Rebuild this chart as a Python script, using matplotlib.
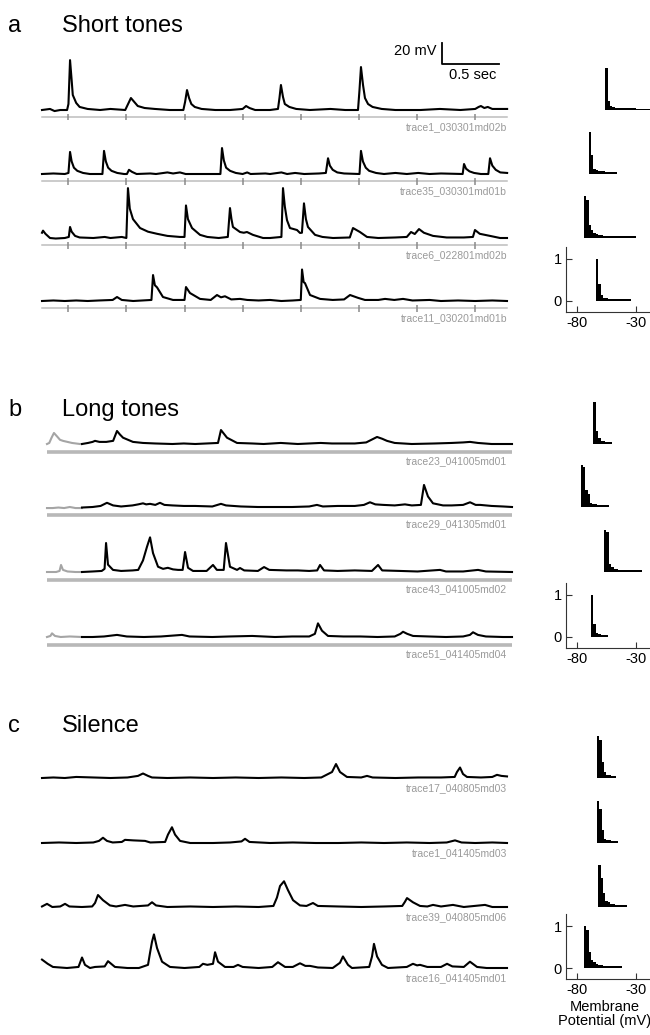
import numpy as np
import matplotlib
matplotlib.use('Agg')
import matplotlib.pyplot as plt

plt.rcParams['font.family'] = ['Liberation Sans', 'DejaVu Sans']
plt.rcParams['axes.unicode_minus'] = False

# ---------------------------------------------------------------
# traces: (time in s, mV above resting level)
# ---------------------------------------------------------------
a1 = [(0, 0), (.07, 1), (.11, -1), (.16, 0), (.22, 0), (.232, 5.7), (.246, 47.5), (.26, 28.5),
      (.27, 14.3), (.30, 6.7), (.33, 2.9), (.40, 1), (.51, 0), (.60, 1), (.73, 0), (.755, 5.7),
      (.78, 11.4), (.81, 7.6), (.84, 3.8), (.90, 1.9), (.99, 1), (1.12, 0), (1.24, 0), (1.255, 7.6),
      (1.272, 19), (1.29, 11.4), (1.31, 5.7), (1.34, 2.9), (1.40, 1), (1.52, 0), (1.65, 0), (1.76, 1),
      (1.79, 3.8), (1.82, 1.9), (1.87, 0), (2.0, 0), (2.07, 1), (2.083, 11.4), (2.096, 23.8),
      (2.114, 12.4), (2.13, 5.7), (2.17, 2.9), (2.23, 1), (2.35, 0), (2.53, 1), (2.66, 0), (2.772, 0),
      (2.785, 19), (2.798, 40.9), (2.816, 23.8), (2.833, 11.4), (2.86, 5.7), (2.90, 2.9), (2.98, 1),
      (3.10, 0), (3.32, 0), (3.49, 1), (3.67, 0), (3.80, 1), (3.83, 2.9), (3.85, 3.8), (3.88, 1.9),
      (3.91, 2.9), (3.95, 1), (4.08, 1)]
a2 = [(0, 0), (.1, .5), (.2, 0), (.232, 1), (.246, 21), (.26, 12), (.28, 6), (.31, 3), (.36, 1),
      (.42, 0), (.53, 0), (.544, 22), (.56, 12), (.58, 6), (.61, 3), (.66, 1), (.72, 0), (.745, 0),
      (.763, 4), (.79, 2), (.83, 0), (.95, .5), (1.0, 0), (1.1, 1.5), (1.15, .5), (1.21, 1.5),
      (1.26, 0), (1.4, 0), (1.565, 0), (1.579, 24.7), (1.595, 13), (1.615, 6), (1.65, 3), (1.70, 1),
      (1.76, 0), (1.80, 1.5), (1.83, 0), (1.96, .5), (2.0, 0), (2.1, 1.5), (2.15, 0), (2.22, 1),
      (2.3, 0), (2.43, .5), (2.49, 1), (2.509, 15), (2.525, 8), (2.55, 4), (2.59, 1.5), (2.65, .5),
      (2.785, 0), (2.798, 22), (2.815, 12), (2.84, 6), (2.87, 3), (2.93, 1), (3.0, 0), (3.1, 1),
      (3.2, 0), (3.3, 1), (3.4, 0), (3.5, .5), (3.69, 0), (3.702, 9.5), (3.72, 5), (3.75, 2.5),
      (3.79, 1), (3.85, 0), (3.915, 0), (3.93, 15), (3.95, 8), (3.98, 4), (4.02, 1.5), (4.08, 1)]
a3 = [(0, 5), (.009, 7), (.03, 4), (.07, 0), (.12, -.5), (.2, 0), (.235, 1), (.246, 10.5), (.26, 6),
      (.29, 2), (.33, .5), (.45, 0), (.55, 1), (.6, 0), (.70, 1), (.74, 0), (.754, 47.5), (.77, 28),
      (.798, 18), (.86, 9.5), (.93, 6), (1.009, 4), (1.1, 2), (1.21, 1), (1.25, 1), (1.263, 31),
      (1.28, 18), (1.316, 9.5), (1.386, 3), (1.45, 1), (1.55, 0), (1.63, 1), (1.649, 28.5),
      (1.662, 18), (1.675, 10.5), (1.737, 5.7), (1.77, 5), (1.798, 5.7), (1.85, 3), (1.939, 0),
      (2.0, 0), (2.1, 1), (2.114, 47.5), (2.13, 30), (2.149, 17), (2.175, 9.5), (2.237, 7.6),
      (2.263, 4.8), (2.28, 5), (2.298, 33), (2.315, 18), (2.333, 10.5), (2.395, 3), (2.46, 1),
      (2.553, 0), (2.7, .5), (2.728, 9.5), (2.789, 5.7), (2.851, 1), (2.95, 0), (3.1, .5), (3.2, 1),
      (3.237, 5.7), (3.27, 3.8), (3.307, 8.5), (3.35, 5), (3.43, 2), (3.55, .5), (3.7, .5),
      (3.78, 1), (3.798, 7.6), (3.84, 4), (3.93, 2), (4.018, 0), (4.079, 0)]
a4 = [(0, 0), (.1, .5), (.2, 0), (.3, .5), (.4, 0), (.5, .5), (.62, 1), (.658, 3.8), (.7, 1),
      (.8, 0), (.96, 1), (.974, 24.7), (.99, 15), (1.009, 13), (1.061, 3.8), (1.149, 1), (1.25, 1),
      (1.263, 13.3), (1.298, 7.6), (1.386, 2), (1.48, 1), (1.535, 5.7), (1.57, 3.5), (1.605, 4.5),
      (1.66, 1.5), (1.737, 2), (1.8, 1), (1.9, .5), (2.0, 1), (2.1, 0), (2.2, .5), (2.27, 1),
      (2.281, 30), (2.295, 18), (2.307, 17), (2.351, 5.7), (2.439, 2), (2.55, 1), (2.65, 1.5),
      (2.702, 5.7), (2.772, 3), (2.833, 1), (2.95, 1), (3.009, 2), (3.09, 1), (3.167, 2),
      (3.25, .5), (3.4, 1), (3.5, 0), (3.65, .5), (3.8, 0), (3.95, .5), (4.079, 0)]

# long tones: grey part before tone onset, black part after
b1_pre = [(0, 0), (.02, 1), (.04, 6), (.061, 10.5), (.09, 7), (.114, 4), (.14, 3), (.219, 1),
          (.289, 0), (.307, 0)]
b1 = [(.307, 0), (.36, 1), (.40, 2), (.421, 3), (.46, 2), (.52, 2), (.58, 3), (.614, 12.4),
      (.64, 9), (.667, 6), (.754, 2), (.842, 1), (.95, .5), (1.1, 0), (1.2, .5), (1.3, 0), (1.4, .5),
      (1.5, 1), (1.526, 13.3), (1.55, 10), (1.579, 6), (1.667, 1), (1.8, .5), (1.9, 0), (2.05, 1),
      (2.2, 0), (2.4, 1), (2.5, .5), (2.7, .5), (2.8, 1.5), (2.895, 6.7), (2.94, 5), (2.982, 3),
      (3.05, 1), (3.2, 0), (3.4, .5), (3.55, 1), (3.65, 1.5), (3.711, 2), (3.78, 1), (3.9, 0),
      (4.079, 0)]
b2_pre = [(0, -1), (.05, -1), (.1, -.5), (.15, -1), (.2, 0), (.25, -1), (.307, -1)]
b2 = [(.307, -.5), (.4, 0), (.47, 1), (.526, 4), (.58, 1.5), (.65, .5), (.75, 1.5), (.80, 2.5),
      (.842, 3.5), (.87, 2.5), (.904, 3), (.95, 2), (.991, 4), (1.03, 2), (1.1, 1.5), (1.2, 1),
      (1.3, 1), (1.45, .5), (1.526, 3), (1.57, 1.5), (1.7, .5), (1.85, 0), (2.0, 0), (2.15, 0),
      (2.3, .5), (2.368, 2), (2.42, .5), (2.55, 1), (2.7, 1), (2.78, 2), (2.833, 4.5), (2.88, 2.5),
      (2.95, 2), (3.05, 1.5), (3.14, 2.5), (3.2, 1.5), (3.28, 2), (3.307, 21), (3.342, 10),
      (3.386, 3.5), (3.474, 1.5), (3.55, 1.5), (3.65, 2), (3.711, 4.5), (3.76, 2), (3.8, 2),
      (3.9, 1), (4.0, .5), (4.079, 0)]
b3_pre = [(0, 0), (.08, 0), (.11, 1), (.123, 6.7), (.14, 2), (.18, .5), (.25, 0), (.307, 0)]
b3 = [(.307, 0), (.4, .5), (.48, 1), (.505, 3), (.518, 27.6), (.535, 7), (.579, 2), (.65, 1),
      (.75, 1.5), (.80, 2), (.842, 11), (.877, 24), (.904, 33), (.93, 18), (.974, 5), (1.018, 3),
      (1.06, 4), (1.105, 2.5), (1.15, 2), (1.19, 2), (1.211, 19), (1.237, 4), (1.281, 1), (1.40, 1),
      (1.456, 6.7), (1.49, 2), (1.55, 2), (1.57, 27.6), (1.605, 5), (1.667, 2), (1.693, 3.8),
      (1.73, 1.5), (1.85, 1), (1.904, 4.7), (1.95, 2), (2.1, 1.5), (2.2, 1.5), (2.3, 1), (2.37, 1.5),
      (2.395, 6.7), (2.43, 1.5), (2.55, 1), (2.7, 1.5), (2.85, 1), (2.904, 6.7), (2.94, 1.5),
      (3.1, 1), (3.25, .5), (3.447, 2), (3.5, .5), (3.65, .5), (3.781, 2), (3.85, .5), (4.079, 0)]
b4_pre = [(0, 0), (.03, 1), (.044, 3.5), (.07, 1), (.12, 0), (.2, .5), (.307, 0)]
b4 = [(.307, 0), (.4, 0), (.5, .5), (.614, 2), (.7, .5), (.85, 0), (1.0, .5), (1.184, 2),
      (1.25, .5), (1.45, 0), (1.6, .5), (1.8, 1), (1.9, .5), (2.0, 0), (2.15, .5), (2.3, .5),
      (2.35, 3), (2.377, 13), (2.412, 6), (2.465, 1), (2.6, .5), (2.75, .5), (2.9, 0), (3.05, .5),
      (3.1, 3), (3.123, 5), (3.16, 3), (3.211, 1), (3.35, .5), (3.5, 0), (3.65, .5), (3.71, 2),
      (3.737, 4.5), (3.78, 2), (3.85, .5), (4.0, 0), (4.079, 0)]

c1 = [(0, 0), (.1, .5), (.2, 0), (.3, 1), (.45, .5), (.6, 0), (.75, .5), (.842, 2), (.886, 4.3),
      (.93, 2), (.965, .5), (1.1, 0), (1.3, .5), (1.5, 0), (1.7, .5), (1.9, 0), (2.1, .5), (2.3, 0),
      (2.45, .5), (2.544, 5.7), (2.579, 13.3), (2.614, 5.7), (2.675, 1), (2.8, .5), (2.851, 2),
      (2.9, .5), (3.1, 0), (3.3, .5), (3.5, .5), (3.62, 1), (3.64, 5.7), (3.667, 10), (3.693, 3.8),
      (3.728, 1), (3.85, .5), (3.95, 1), (3.991, 3), (4.03, 2), (4.079, 1.5)]
c2 = [(0, 0), (.15, .5), (.3, 0), (.45, .5), (.50, 2), (.535, 5), (.57, 2), (.62, .5), (.70, 1),
      (.728, 3), (.8, 2.5), (.904, 2), (.95, .5), (1.08, 1), (1.105, 8), (1.14, 15), (1.167, 8),
      (1.211, 2), (1.3, 0), (1.5, 0), (1.65, .5), (1.75, 1.5), (1.781, 4), (1.82, 1), (2.0, 0),
      (2.2, .5), (2.4, 0), (2.6, 0), (2.8, .5), (3.0, 0), (3.2, .5), (3.4, 0), (3.55, .5),
      (3.623, 2.5), (3.68, .5), (3.8, 0), (3.95, .5), (4.079, 0)]
c3 = [(0, .5), (.044, 3), (.09, 0), (.16, .5), (.202, 3), (.24, .5), (.35, 0), (.44, .5),
      (.465, 3.8), (.491, 11.4), (.535, 6.5), (.596, 1.5), (.65, .5), (.728, 2), (.8, .5),
      (.93, 1.5), (.965, 4.5), (1.0, 1.5), (1.1, 0), (1.3, .5), (1.5, 0), (1.7, .5), (1.9, 0),
      (2.03, 1), (2.061, 9), (2.088, 20), (2.123, 24.5), (2.158, 16), (2.202, 6.5), (2.263, 1.5),
      (2.32, 1), (2.377, 3.8), (2.42, 1), (2.6, .5), (2.8, 0), (3.0, .5), (3.16, 1), (3.184, 5),
      (3.202, 8.5), (3.254, 4.5), (3.316, 1), (3.38, .5), (3.43, 2), (3.5, .5), (3.605, 2),
      (3.7, 0), (3.886, 2), (3.95, 0), (4.079, 0)]
c4 = [(0, 8), (.05, 4), (.096, 1), (.219, 0), (.32, 1), (.351, 10), (.377, 3), (.421, 0), (.465, 1),
      (.55, 1.5), (.579, 6.5), (.64, 1), (.75, 0), (.85, 0), (.93, 3), (.947, 14), (.965, 25),
      (.982, 32), (1.009, 19), (1.053, 6), (1.123, 1), (1.25, 0), (1.38, 1), (1.412, 4), (1.45, 3),
      (1.5, 4), (1.518, 15), (1.544, 6), (1.605, 1), (1.68, 1), (1.719, 3), (1.76, 1), (1.9, 0),
      (2.02, 1), (2.07, 5.5), (2.132, 1), (2.2, 1), (2.263, 4.5), (2.31, 2), (2.351, 2), (2.42, .5),
      (2.55, 0), (2.614, 5), (2.64, 11), (2.684, 3), (2.719, 0), (2.87, 1), (2.895, 11), (2.912, 23),
      (2.939, 11), (2.982, 3), (3.035, 0), (3.2, 1), (3.254, 4), (3.29, 2.5), (3.316, 3), (3.38, 1),
      (3.5, 1), (3.553, 4), (3.6, 1.5), (3.7, 1), (3.754, 6), (3.816, 1), (3.9, 0), (4.079, 0)]

names_a = ['trace1_030301md02b', 'trace35_030301md01b', 'trace6_022801md02b', 'trace11_030201md01b']
names_b = ['trace23_041005md01', 'trace29_041305md01', 'trace43_041005md02', 'trace51_041405md04']
names_c = ['trace17_040805md03', 'trace1_041405md03', 'trace39_040805md06', 'trace16_041405md01']

tone_onsets = [0.23, 0.74, 1.25, 1.76, 2.27, 2.78, 3.29, 3.80]   # s, short tones

# membrane potential histograms: (left edge of first bin in mV, normalised counts), 2 mV bins
hist_bin = 2.0
hist_a = [(-56, [1.0, .22, .1, .06, .05, .05, .04, .04, .04, .04, .04, .04, .04, .03, .03, .03, .03, .03, .03, .03]),
          (-70, [1.0, .45, .12, .1, .08, .08, .06, .05, .05, .05, .04, .04]),
          (-74, [1.0, .9, .3, .2, .12, .1, .08, .06, .05, .05, .05, .04, .04, .04, .04, .04, .04, .04, .04, .04, .04, .04]),
          (-64, [1.0, .4, .15, .08, .06, .05, .05, .05, .04, .04, .04, .04, .04, .04, .04])]
hist_b = [(-66, [1.0, .3, .15, .08, .06, .05, .05, .04]),
          (-77, [1.0, .95, .4, .3, .1, .07, .06, .05, .05, .05, .04, .04]),
          (-57, [1.0, .95, .2, .12, .08, .06, .05, .05, .05, .04, .04, .04, .04, .04, .04, .04]),
          (-68, [1.0, .3, .1, .06, .05, .05, .04])]
hist_c = [(-63, [1.0, .9, .38, .14, .08, .06, .05, .05]),
          (-63, [1.0, .8, .3, .1, .07, .06, .05, .05, .04]),
          (-62, [1.0, .7, .33, .15, .12, .08, .06, .05, .05, .05, .04, .04]),
          (-74, [1.0, .9, .38, .2, .15, .1, .08, .06, .05, .05, .05, .04, .04, .04, .04, .04])]

# ---------------------------------------------------------------
W, H = 650, 1035
fig = plt.figure(figsize=(W / 100, H / 100), dpi=100)

PX_PER_MV = 21 / 20.0
PX_PER_S = 114.0
T_END = 465 / PX_PER_S
LABEL_GREY = '#9a9a9a'


def rect(x0, x1, y_top, y_bot):
    return [x0 / W, 1 - y_bot / H, (x1 - x0) / W, (y_bot - y_top) / H]


def trace_axes(x0, base):
    lo, hi = -15, 55
    ax = fig.add_axes(rect(x0, x0 + 465, base - hi * PX_PER_MV, base - lo * PX_PER_MV))
    ax.set_xlim(0, T_END)
    ax.set_ylim(lo, hi)
    ax.axis('off')
    return ax


def draw(ax, pts, color='black'):
    t, v = zip(*pts)
    ax.plot(t, v, color=color, lw=1.5, clip_on=False, solid_joinstyle='round')


def hist_axes(base, start, vals, show_axis):
    ax = fig.add_axes(rect(566, 650, base - 54, base + 11))
    ax.set_xlim(-89.3, -18.1)
    ax.set_ylim(-11 / 42, 54 / 42)
    edges = start + hist_bin * np.arange(len(vals) + 1)
    ax.stairs(vals, edges, fill=True, color='black', lw=0.6)
    ax.patch.set_visible(False)
    if show_axis:
        for s in ['top', 'right']:
            ax.spines[s].set_visible(False)
        for s in ['left', 'bottom']:
            ax.spines[s].set_linewidth(0.8)
            ax.spines[s].set_color('#333333')
        ax.set_xticks([-80, -30])
        ax.set_yticks([0, 1])
        ax.tick_params(direction='in', length=4, width=0.8, labelsize=10.5, pad=3, colors='#333333',
                       labelcolor='black')
    else:
        ax.axis('off')
    return ax


def label(x_right, y, text):
    fig.text(x_right / W, 1 - y / H, text, ha='right', va='center', fontsize=7.5, color=LABEL_GREY)


def heading(y, letter, title):
    fig.text(8 / W, 1 - y / H, letter, ha='left', va='baseline', fontsize=17)
    fig.text(62 / W, 1 - y / H, title, ha='left', va='baseline', fontsize=17)


# ---- panel a: short tones ----
heading(32, 'a', 'Short tones')
base_a = [110, 174, 238, 301]
for i, (pts, base) in enumerate(zip([a1, a2, a3, a4], base_a)):
    ax = trace_axes(42, base)
    ax.plot([0, T_END], [-7, -7], color='#bdbdbd', lw=1.1, clip_on=False)
    ax.vlines(tone_onsets, -10, -4, color='#8a8a8a', lw=1.1, clip_on=False)
    draw(ax, pts)
    label(507, base + 17, names_a[i])
    hist_axes(base, hist_a[i][0], hist_a[i][1], i == 3)
    if i == 0:
        # scale bar 20 mV / 0.5 s
        t0, v0 = 3.51, 44.0
        ax.plot([t0, t0, t0 + 0.5], [v0 + 20, v0, v0], color='black', lw=1.3, clip_on=False)
        ax.text(t0 - 0.05, v0 + 8.5, '20 mV', ha='right', va='baseline', fontsize=10.5)
        ax.text(t0 + 0.27, v0 - 14.5, '0.5 sec', ha='center', va='baseline', fontsize=10.5)

# ---- panel b: long tones ----
heading(416, 'b', 'Long tones')
base_b = [444, 507, 572, 637]
pre_b = [b1_pre, b2_pre, b3_pre, b4_pre]
for i, (pts, base) in enumerate(zip([b1, b2, b3, b4], base_b)):
    ax = trace_axes(47, base)
    ax.plot([0, T_END], [-8, -8], color='#b8b8b8', lw=2.6, solid_capstyle='butt', clip_on=False)
    draw(ax, pre_b[i], color='#a5a5a5')
    draw(ax, pts)
    label(507, base + 17, names_b[i])
    hist_axes(base, hist_b[i][0], hist_b[i][1], i == 3)

# ---- panel c: silence ----
heading(732, 'c', 'Silence')
base_c = [778, 843, 907, 968]
for i, (pts, base) in enumerate(zip([c1, c2, c3, c4], base_c)):
    ax = trace_axes(42, base)
    draw(ax, pts)
    label(507, base + 10, names_c[i])
    hax = hist_axes(base, hist_c[i][0], hist_c[i][1], i == 3)
    if i == 3:
        hax.set_xlabel('Membrane\nPotential (mV)', fontsize=10.5, linespacing=1.0, labelpad=2)
        hax.xaxis.set_label_coords(0.46, -0.32)

fig.savefig('out.png', dpi=100, facecolor='white')
